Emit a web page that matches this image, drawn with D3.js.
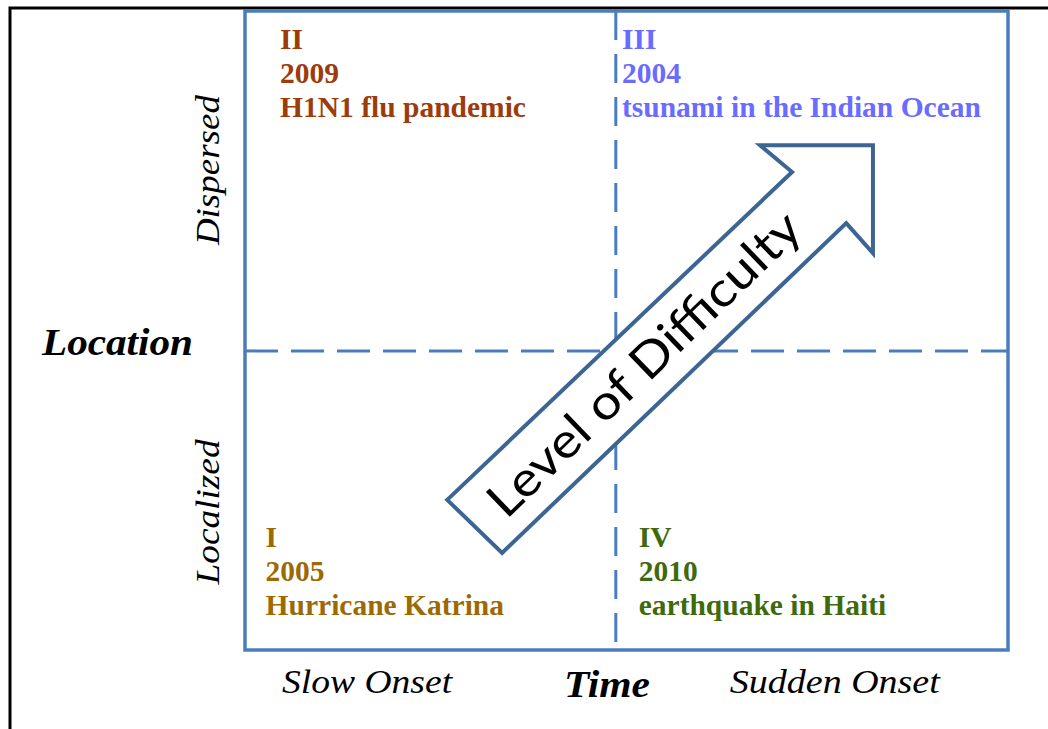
<!DOCTYPE html>
<html>
<head>
<meta charset="utf-8">
<script src="https://cdn.jsdelivr.net/npm/d3@7"></script>
<style>
  body { margin: 0; background: #fff; }
  svg { display: block; }
</style>
</head>
<body>
<svg id="chart"></svg>
<script>
// quadrant content
const quadrants = ['II', 'III', 'I', 'IV'];
const years = ['2009', '2004', '2005', '2010'];
const events = ['H1N1 flu pandemic', 'tsunami in the Indian Ocean', 'Hurricane Katrina', 'earthquake in Haiti'];
const eventColors = ['#9c3b0b', '#6a6cff', '#9c6a05', '#3f6a0c'];
// where each quadrant's label block starts (time, location in 0..1 units)
const labelTime = [0.046, 0.494, 0.027, 0.516];
const labelLoc = [0.941, 0.941, 0.161, 0.161];

const timeLabels = ['Slow Onset', 'Sudden Onset'];
const timeLabelPos = [0.160, 0.773];
const locationLabels = ['Localized', 'Dispersed'];
const locationLabelPos = [0.216, 0.751];
const timeSplit = 0.486;
const locationSplit = 0.468;

// arrow outline in (time, location) units
const arrowTime = [0.265, 0.717, 0.675, 0.823, 0.823, 0.788, 0.337];
const arrowLoc = [0.235, 0.748, 0.790, 0.790, 0.621, 0.668, 0.152];

const config = {
  containerWidth: 1048,
  containerHeight: 729,
  box: {left: 245, right: 1008, top: 11, bottom: 650}
};

const svg = d3.select('#chart')
  .attr('width', config.containerWidth)
  .attr('height', config.containerHeight);

const xScale = d3.scaleLinear().domain([0, 1]).range([config.box.left, config.box.right]);
const yScale = d3.scaleLinear().domain([0, 1]).range([config.box.bottom, config.box.top]);

// outer black frame (left and top)
svg.append('path')
  .attr('d', `M10,${config.containerHeight} L10,8 L${config.containerWidth},8`)
  .attr('fill', 'none')
  .attr('stroke', '#000')
  .attr('stroke-width', 3);

const blue = '#4a7ebb';

// quadrant box
svg.append('rect')
  .attr('x', xScale(0))
  .attr('y', yScale(1))
  .attr('width', xScale(1) - xScale(0))
  .attr('height', yScale(0) - yScale(1))
  .attr('fill', 'none')
  .attr('stroke', blue)
  .attr('stroke-width', 3.5);

// dashed dividers
svg.append('line')
  .attr('x1', xScale(timeSplit)).attr('x2', xScale(timeSplit))
  .attr('y1', yScale(1)).attr('y2', yScale(0))
  .attr('stroke', blue).attr('stroke-width', 3)
  .attr('stroke-dasharray', '29,14');

svg.append('line')
  .attr('x1', xScale(0)).attr('x2', xScale(1))
  .attr('y1', yScale(locationSplit)).attr('y2', yScale(locationSplit))
  .attr('stroke', blue).attr('stroke-width', 3)
  .attr('stroke-dasharray', '33,13');

const serif = '"Liberation Serif", "Times New Roman", serif';

// quadrant labels
quadrants.forEach((q, i) => {
  const t = svg.append('text')
    .attr('x', xScale(labelTime[i]))
    .attr('y', yScale(labelLoc[i]))
    .attr('fill', eventColors[i])
    .style('font-family', serif)
    .style('font-weight', 'bold')
    .style('font-size', '29.5px');
  [q, years[i], events[i]].forEach((s, j) => {
    t.append('tspan')
      .attr('x', xScale(labelTime[i]))
      .attr('dy', j === 0 ? 0 : 34)
      .text(s);
  });
});

// level of difficulty arrow
const arrowPts = arrowTime.map((t, i) => [xScale(t), yScale(arrowLoc[i])]);
svg.append('path')
  .attr('d', d3.line()(arrowPts) + 'Z')
  .attr('fill', '#fff')
  .attr('stroke', '#3d6594')
  .attr('stroke-width', 4)
  .attr('stroke-linejoin', 'miter');

const cx = (xScale(arrowTime[0]) + xScale(arrowTime[6]) + xScale(arrowTime[1]) + xScale(arrowTime[5])) / 4;
const cy = (yScale(arrowLoc[0]) + yScale(arrowLoc[6]) + yScale(arrowLoc[1]) + yScale(arrowLoc[5])) / 4;

svg.append('text')
  .attr('transform', `translate(${cx - 3},${cy + 2}) rotate(-44)`)
  .attr('text-anchor', 'middle')
  .attr('dy', '0.35em')
  .attr('textLength', 415)
  .attr('lengthAdjust', 'spacingAndGlyphs')
  .style('font-family', 'Lato, "Open Sans", sans-serif')
  .style('font-size', '48px')
  .text('Level of Difficulty');

// axis labels
svg.append('text')
  .attr('x', 42).attr('y', 355)
  .attr('textLength', 151)
  .attr('lengthAdjust', 'spacingAndGlyphs')
  .style('font-family', serif)
  .style('font-style', 'italic').style('font-weight', 'bold')
  .style('font-size', '38px')
  .text('Location');

locationLabels.forEach((s, i) => {
  svg.append('text')
    .attr('transform', `translate(219,${yScale(locationLabelPos[i])}) rotate(-90)`)
    .attr('text-anchor', 'middle')
    .attr('textLength', i === 0 ? 145 : 150)
    .attr('lengthAdjust', 'spacingAndGlyphs')
    .style('font-family', serif)
    .style('font-style', 'italic')
    .style('font-size', '34px')
    .text(s);
});

timeLabels.forEach((s, i) => {
  svg.append('text')
    .attr('x', xScale(timeLabelPos[i]))
    .attr('y', 693)
    .attr('text-anchor', 'middle')
    .attr('textLength', i === 0 ? 170 : 210)
    .attr('lengthAdjust', 'spacingAndGlyphs')
    .style('font-family', serif)
    .style('font-style', 'italic')
    .style('font-size', '34px')
    .text(s);
});

svg.append('text')
  .attr('x', 607).attr('y', 697)
  .attr('text-anchor', 'middle')
  .attr('textLength', 86)
  .attr('lengthAdjust', 'spacingAndGlyphs')
  .style('font-family', serif)
  .style('font-style', 'italic').style('font-weight', 'bold')
  .style('font-size', '37px')
  .text('Time');
</script>
</body>
</html>
